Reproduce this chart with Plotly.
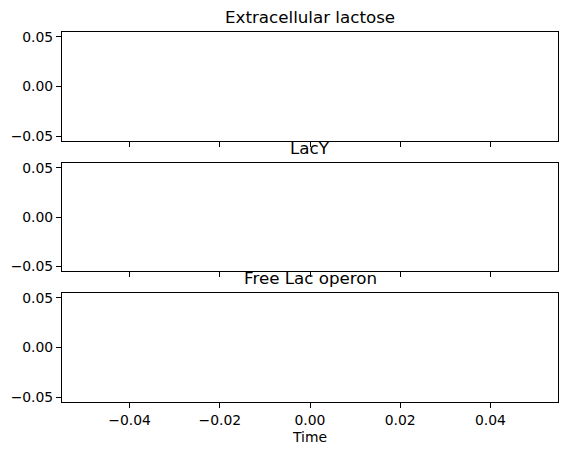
import plotly.graph_objects as go
from plotly.subplots import make_subplots

# Data (the reference shows empty series)
time = []
extracellular_lactose = []
lacy = []
free_lac_operon = []

titles = ["Extracellular lactose", "LacY", "Free Lac operon"]
series = [extracellular_lactose, lacy, free_lac_operon]
x_ticks = [-0.04, -0.02, 0.00, 0.02, 0.04]
y_ticks = [-0.05, 0.00, 0.05]

W, H = 567, 455
ml, mr, mt, mb = 62, 9, 32, 53
ph = H - mt - mb
# axes pixel bounds (top, bottom) from the top of the figure
px_bounds = [(32, 141), (163, 271), (293, 402)]
domains = [((H - mb - b) / ph, (H - mb - t) / ph) for t, b in px_bounds]

fig = make_subplots(rows=3, cols=1, shared_xaxes=True)
font = "DejaVu Sans"
for i, (s, title) in enumerate(zip(series, titles)):
    r = i + 1
    fig.add_trace(go.Scatter(x=time, y=s, mode="lines", line=dict(color="#1f77b4"),
                             showlegend=False), row=r, col=1)
    yname = "yaxis" if r == 1 else f"yaxis{r}"
    lo, hi = domains[i]
    fig.layout[yname].update(domain=[max(lo, 0), min(hi, 1)])
    fig.add_annotation(text=title, xref="paper", yref="paper", x=0.5, y=min(hi, 1),
                       xanchor="center", yanchor="bottom", yshift=3, showarrow=False,
                       font=dict(family=font, size=16.7, color="black"))

common = dict(showline=True, linecolor="black", linewidth=1, mirror=True,
              ticks="outside", ticklen=5, tickwidth=1, tickcolor="black",
              showgrid=False, zeroline=False,
              tickfont=dict(family=font, size=13.9, color="black"))
fig.update_xaxes(range=[-0.055, 0.055], tickvals=x_ticks, tickformat=".2f", **common)
fig.update_yaxes(range=[-0.055, 0.055], tickvals=y_ticks, tickformat=".2f", **common)
fig.update_xaxes(showticklabels=False)
fig.update_xaxes(showticklabels=True, row=3, col=1,
                 title=dict(text="Time", font=dict(family=font, size=13.9, color="black"),
                            standoff=5))

fig.update_layout(width=W, height=H, margin=dict(l=ml, r=mr, t=mt, b=mb),
                  plot_bgcolor="white", paper_bgcolor="white",
                  font=dict(family=font, color="black"))
fig.write_html("out.html", config={"displayModeBar": False})

# remove default page margin so the figure sits at the window origin
with open("out.html", encoding="utf-8") as f:
    html = f.read()
html = html.replace("<body>", '<body style="margin:0;padding:0;">', 1)
with open("out.html", "w", encoding="utf-8") as f:
    f.write(html)
